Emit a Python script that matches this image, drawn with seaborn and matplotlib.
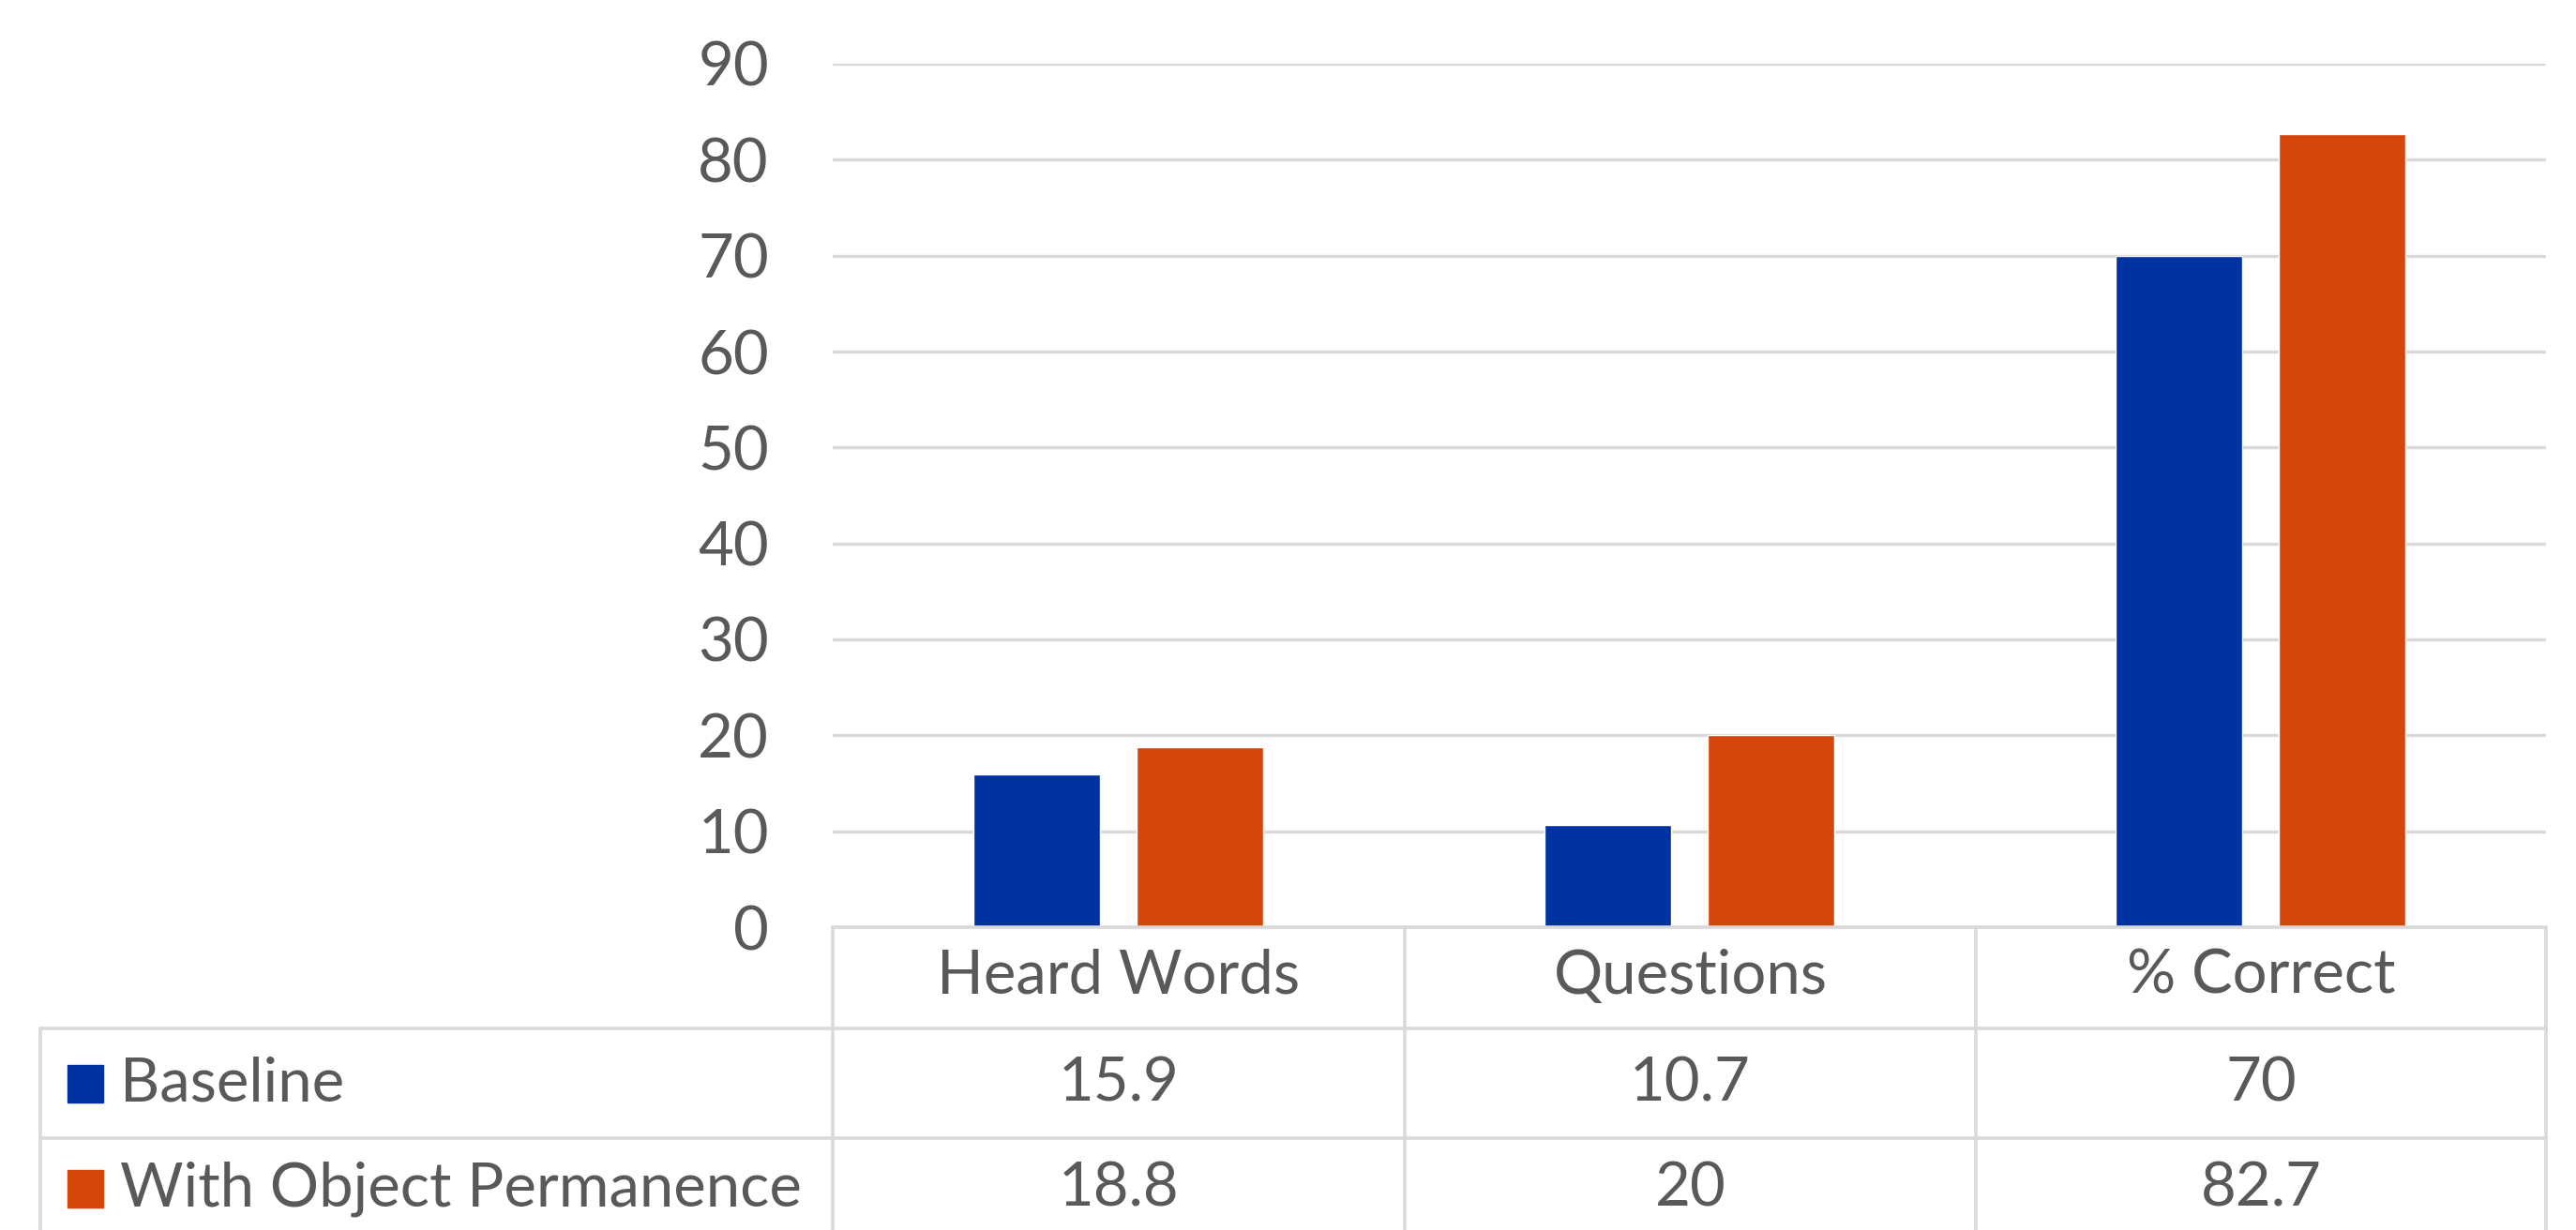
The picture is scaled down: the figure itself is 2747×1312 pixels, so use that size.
import pandas as pd
import matplotlib.pyplot as plt
import matplotlib.patches as mpatches
import seaborn as sns

# --------------------------------
# Data
# --------------------------------
categories = ["Heard Words", "Questions", "% Correct"]
series_names = ["Baseline", "With Object Permanence"]
baseline = [15.9, 10.7, 70]
with_object = [18.8, 20, 82.7]
baseline_labels = ["15.9", "10.7", "70"]
with_object_labels = ["18.8", "20", "82.7"]
y_ticks = [0, 10, 20, 30, 40, 50, 60, 70, 80, 90]

colors = {"Baseline": "#0033A1", "With Object Permanence": "#D5460A"}
TEXT = "#595959"
GRID = "#D9D9D9"
FS = 47

df = pd.DataFrame({
    "category": categories * 2,
    "series": [series_names[0]] * 3 + [series_names[1]] * 3,
    "value": baseline + with_object,
})

# --------------------------------
# Figure
# --------------------------------
sns.set_theme(style="white")
plt.rcParams["font.family"] = ["Lato", "DejaVu Sans"]

W, H = 2747, 1312
fig = plt.figure(figsize=(W / 100, H / 100), dpi=100)

left, right, top, zero = 888, 2715, 68, 989
ax = fig.add_axes([left / W, 1 - zero / H, (right - left) / W, (zero - top) / H])

sns.barplot(data=df, x="category", y="value", hue="series", order=categories,
            hue_order=series_names, palette=colors, width=0.57, gap=0.22,
            saturation=1, legend=False, ax=ax, zorder=3)

ax.set_xlim(-0.5, 2.5)
ax.set_ylim(0, 90)
ax.set_yticks(y_ticks)
ax.set_yticklabels([str(t) for t in y_ticks], fontsize=FS, color=TEXT)
ax.tick_params(axis="y", length=0, pad=49)
ax.set_xticks([])
ax.set_xlabel("")
ax.set_ylabel("")
ax.grid(axis="y", color=GRID, linewidth=2.4, zorder=0)
for s in ax.spines.values():
    s.set_visible(False)

# --------------------------------
# Data table under the chart
# --------------------------------
def fx(px):
    return px / W


def fy(py):
    return 1 - py / H


col_edges = [888, 1498, 2107, 2715]
row_edges = [989, 1097, 1214]
table_left = 43


def hline(x0, x1, y):
    fig.add_artist(plt.Line2D([fx(x0), fx(x1)], [fy(y), fy(y)],
                              color=GRID, linewidth=2.6))


def vline(x, y0, y1):
    fig.add_artist(plt.Line2D([fx(x), fx(x)], [fy(y0), fy(y1)],
                              color=GRID, linewidth=2.6))


hline(col_edges[0], col_edges[-1], row_edges[0])
hline(table_left, col_edges[-1], row_edges[1])
hline(table_left, col_edges[-1], row_edges[2])
vline(table_left, row_edges[1], H)
for x in col_edges:
    vline(x, row_edges[0], H)

header_y = 1041
row_ys = [1156, 1268]
col_centers = [(col_edges[i] + col_edges[i + 1]) / 2 for i in range(3)]

for cx, cat in zip(col_centers, categories):
    fig.text(fx(cx), fy(header_y), cat, ha="center", va="center",
             fontsize=FS, color=TEXT)

for ry, name, labels in zip(row_ys, series_names, [baseline_labels, with_object_labels]):
    fig.add_artist(mpatches.Rectangle((fx(72), fy(ry + 20)), fx(38), 40 / H,
                                      color=colors[name], transform=fig.transFigure))
    fig.text(fx(128), fy(ry), name, ha="left", va="center", fontsize=FS, color=TEXT)
    for cx, lab in zip(col_centers, labels):
        fig.text(fx(cx), fy(ry), lab, ha="center", va="center",
                 fontsize=FS, color=TEXT)

fig.savefig("out.png", dpi=100, facecolor="white")
plt.close(fig)
